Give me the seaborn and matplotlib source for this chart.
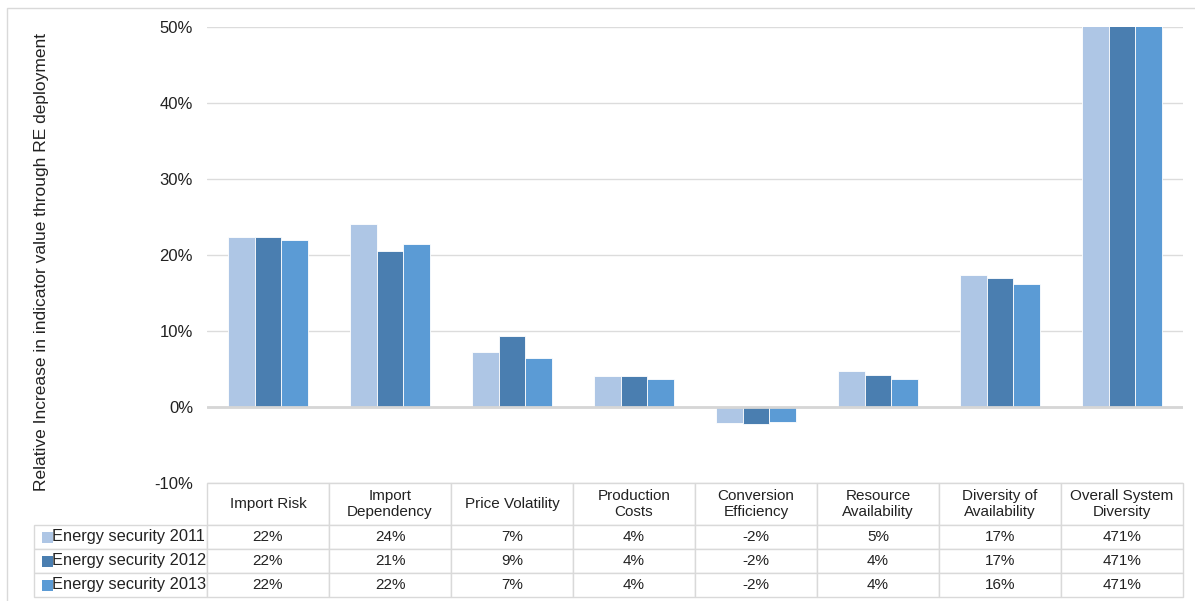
import seaborn as sns
import matplotlib.pyplot as plt
import pandas as pd
from matplotlib.table import Table
from matplotlib.patches import Rectangle

indicators = ['Import Risk', 'Import\nDependency', 'Price Volatility', 'Production\nCosts',
              'Conversion\nEfficiency', 'Resource\nAvailability', 'Diversity of\nAvailability',
              'Overall System\nDiversity']
series = ['Energy security 2011', 'Energy security 2012', 'Energy security 2013']
colors = ['#AEC6E5', '#4A7EB0', '#5B9BD5']

vals_2011 = [0.224, 0.241, 0.073, 0.041, -0.021, 0.047, 0.174, 4.71]
vals_2012 = [0.224, 0.205, 0.094, 0.041, -0.022, 0.042, 0.170, 4.71]
vals_2013 = [0.220, 0.215, 0.064, 0.037, -0.020, 0.037, 0.162, 4.71]

table_2011 = ['22%', '24%', '7%', '4%', '-2%', '5%', '17%', '471%']
table_2012 = ['22%', '21%', '9%', '4%', '-2%', '4%', '17%', '471%']
table_2013 = ['22%', '22%', '7%', '4%', '-2%', '4%', '16%', '471%']

df = pd.DataFrame({
    'indicator': indicators * 3,
    'series': [s for s in series for _ in indicators],
    'value': vals_2011 + vals_2012 + vals_2013,
})

sns.set_style('white')
plt.rcParams['font.family'] = ['Liberation Sans', 'DejaVu Sans']

fig = plt.figure(figsize=(11.95, 6.01), dpi=100)
W, H = 1195, 601
ax = fig.add_axes([207 / W, 1 - 483 / H, 976 / W, 456 / H])

sns.barplot(data=df, x='indicator', y='value', hue='series', palette=colors,
            width=0.65, saturation=1, edgecolor='white', linewidth=0.6,
            legend=False, ax=ax)

ax.set_ylim(-0.1, 0.5)
ax.set_yticks([-0.1, 0, 0.1, 0.2, 0.3, 0.4, 0.5])
ax.set_yticklabels(['-10%', '0%', '10%', '20%', '30%', '40%', '50%'], fontsize=12, color='#222222')
ax.tick_params(axis='y', length=0, pad=10)
ax.set_xticks([])
ax.set_xlabel('')
ax.set_ylabel('')
for s in ax.spines.values():
    s.set_visible(False)
ax.yaxis.grid(True, color='#DCDCDC', linewidth=1)
ax.set_axisbelow(True)
ax.axhline(0, color='#D6D6D6', linewidth=2, zorder=1)

fig.text(42 / W, 1 - 262 / H, 'Relative Increase in indicator value through RE deployment',
         rotation=90, ha='center', va='center', fontsize=12.5, color='#222222')

# data table below the plot
ax_h = 456.0
lab_w = (208 - 35) / 976
col_w = 1 / 8
hdr_h = 42 / ax_h
row_h = 24 / ax_h
tab = Table(ax, bbox=[0, -(hdr_h + 3 * row_h), 1, hdr_h + 3 * row_h])
for j, name in enumerate(indicators):
    tab.add_cell(0, j, col_w, hdr_h, text=name, loc='center')
rows = [table_2011, table_2012, table_2013]
for i, (lab, row) in enumerate(zip(series, rows)):
    c = tab.add_cell(i + 1, -1, lab_w, row_h, text=lab, loc='left')
    c.PAD = 18 / 173
    for j, v in enumerate(row):
        tab.add_cell(i + 1, j, col_w, row_h, text=v, loc='center')
tab.auto_set_font_size(False)
tab.set_fontsize(11)
for (r, cidx), cell in tab.get_celld().items():
    cell.set_edgecolor('#D9D9D9')
    cell.set_linewidth(1)
    cell.get_text().set_color('#222222')
    if cidx == -1:
        cell.get_text().set_fontsize(11.8)
ax.add_table(tab)

for i, col in enumerate(colors):
    y = -(hdr_h + (i + 0.5) * row_h)
    ax.add_patch(Rectangle((-(165 / 976), y - 5.5 / ax_h), 10.5 / 976, 11 / ax_h,
                           transform=ax.transAxes, facecolor=col, edgecolor='none',
                           clip_on=False))

fig.patches.append(Rectangle((7 / W, -0.05), 1.2, 1 - 8 / H + 0.05, transform=fig.transFigure,
                             facecolor='none', edgecolor='#D9D9D9', linewidth=1))

fig.savefig('out.png', dpi=100)
